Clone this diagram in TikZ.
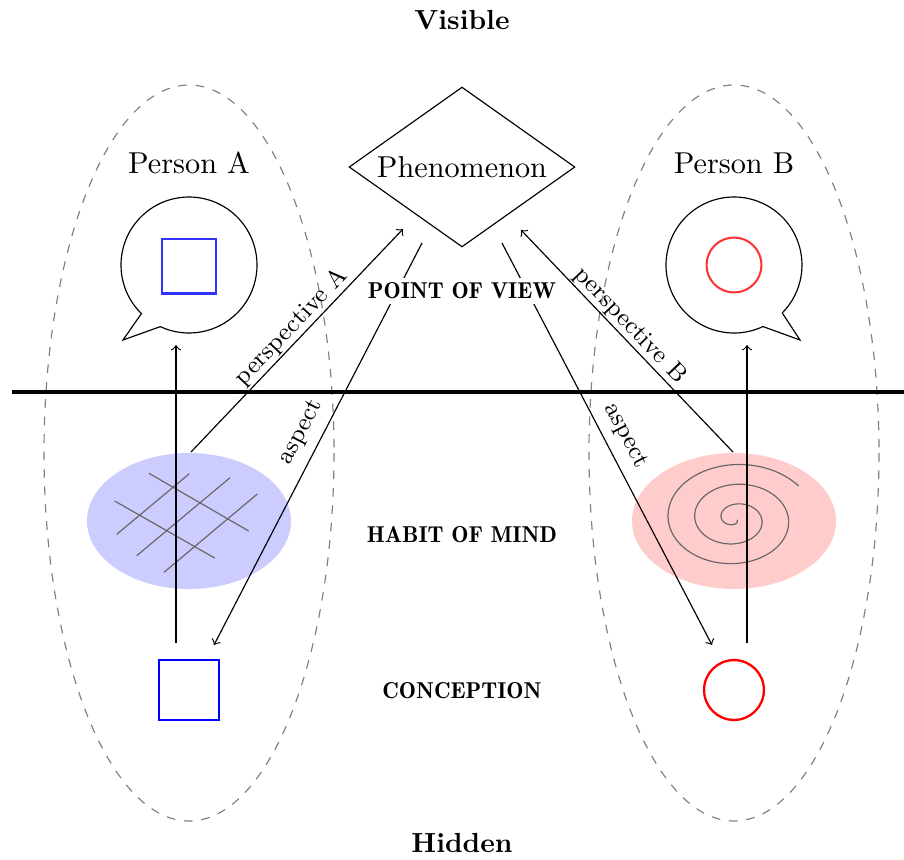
\documentclass[tikz,border=0pt]{standalone}
\usetikzlibrary{shapes.geometric}
\begin{document}
\begin{tikzpicture}[x=0.344pt,y=-0.344pt,
  font=\fontsize{10.4}{12}\selectfont,
  lbl/.style={font=\fontsize{8.5}{10}\selectfont},
  arr/.style={->, line width=0.4pt},
  midlbl/.style={font=\fontsize{7.9}{9}\fontseries{b}\selectfont, fill=white, inner sep=1.8pt},
  dashell/.style={draw=gray, dashed, line width=0.4pt},
  gridln/.style={draw=black!60, line width=0.4pt},
  title/.style={font=\fontsize{9.5}{11}\selectfont\bfseries}]
\useasboundingbox (0,0) rectangle (904,859);

% titles
\node[title] (vis) at (462,20) {Visible};
\node[title] (hid) at (462,843) {Hidden};

% dashed person ellipses
\draw[dashell] (189,453) ellipse[x radius=145, y radius=368];
\draw[dashell] (734,453) ellipse[x radius=145, y radius=368];

% person labels
\node (pA) at (189,163) {Person A};
\node (pB) at (734,163) {Person B};

% speech bubbles
\coordinate (cA) at (189,265);
\coordinate (tipA) at (123,340);
\draw (tipA) -- ([shift={(134.4:68)}]cA) arc[start angle=134.4, end angle=475, radius=68] -- cycle;
\coordinate (cB) at (734,265);
\coordinate (tipB) at (800,340);
\draw (tipB) -- ([shift={(64.8:68)}]cB) arc[start angle=64.8, end angle=404.8, radius=68] -- cycle;

\node[draw=blue!80, line width=0.7pt, minimum size=18.9pt, inner sep=0pt] (sqA) at (189,266) {};
\node[circle, draw=red!80, line width=0.7pt, minimum size=18.9pt, inner sep=0pt] (ciB) at (734,265) {};

% phenomenon
\node[draw, diamond, inner sep=0pt, minimum width=77.7pt, minimum height=55pt, shape aspect=1.41] (phen) at (462,167) {Phenomenon};

% habit ellipses
\fill[blue!20] (189,521) ellipse[x radius=102, y radius=68];
\fill[red!20] (734,521) ellipse[x radius=102, y radius=68];

% grid
\draw[gridln] (116.7,534.3) -- (189.3,473.7);
\draw[gridln] (136.7,555.7) -- (230,477.7);
\draw[gridln] (164,572.3) -- (257.3,494);
\draw[gridln] (149,473.3) -- (248.7,531);
\draw[gridln] (114.7,501) -- (214.7,558);

% spiral
\draw[gridln] plot[domain=30:1045, samples=300, smooth] ({735+0.0743*\x*cos(\x)},{519+0.055*\x*sin(\x)});

% conceptions
\node[draw=blue, line width=0.8pt, minimum size=20.6pt, inner sep=0pt] (sqC) at (189,690) {};
\node[circle, draw=red, line width=0.8pt, minimum size=20.6pt, inner sep=0pt] (ciC) at (734,690) {};

% arrow end points
\coordinate (vAs) at (176,643);
\coordinate (vAe) at (176,345);
\coordinate (vBs) at (747,643);
\coordinate (vBe) at (747,345);
\coordinate (pAs) at (191,452);
\coordinate (pAe) at (403,229);
\coordinate (pBs) at (733,452);
\coordinate (pBe) at (521,230);
\coordinate (aLs) at (422,243);
\coordinate (aLe) at (214,645);
\coordinate (aRs) at (502,243);
\coordinate (aRe) at (712,645);

\draw[arr] (vAs) -- (vAe);
\draw[arr] (vBs) -- (vBe);
\draw[arr] (pAs) -- node[lbl, sloped, above, inner sep=0.5pt, pos=0.52] (lpA) {perspective A} (pAe);
\draw[arr] (pBs) -- node[lbl, sloped, above, inner sep=0.5pt, pos=0.53] (lpB) {perspective B} (pBe);
\draw[arr] (aLs) -- node[lbl, sloped, above, pos=0.494] (laL) {aspect} (aLe);
\draw[arr] (aRs) -- node[lbl, sloped, above, pos=0.503] (laR) {aspect} (aRe);

% middle labels
\node[midlbl] (pov) at (462,291) {POINT OF VIEW};
\node[midlbl] (hom) at (462,535) {HABIT OF MIND};
\node[midlbl] (con) at (462,691) {CONCEPTION};

% horizon
\coordinate (hL) at (12,392);
\coordinate (hR) at (904,392);
\draw[line width=1.1pt] (hL) -- (hR);
\end{tikzpicture}
\end{document}
